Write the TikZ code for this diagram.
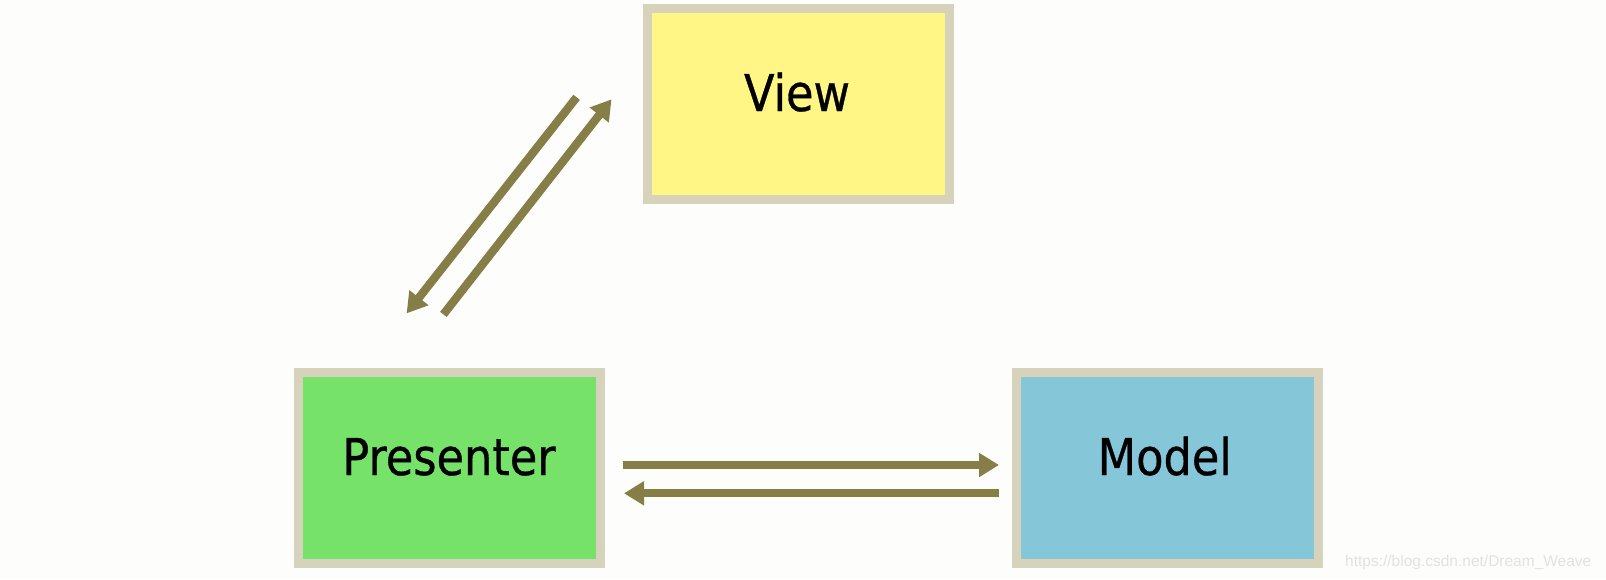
\documentclass[tikz,border=0pt]{standalone}
\usepackage{fontspec}
\setmainfont{DejaVu Sans}[FakeStretch=0.88,FakeBold=0.6]
\newfontfamily\wmfont{Liberation Sans}
\usetikzlibrary{arrows.meta}
\definecolor{bgc}{HTML}{FDFDFB}
\definecolor{bordc}{HTML}{D6D2BC}
\definecolor{viewc}{HTML}{FFF685}
\definecolor{presc}{HTML}{77E26A}
\definecolor{modelc}{HTML}{85C6D8}
\definecolor{arrc}{HTML}{857E47}
\definecolor{wmc}{HTML}{E2E2E0}
\tikzset{
  boxnode/.style={draw=bordc, line width=9pt, minimum width=302pt, minimum height=191pt, inner sep=0pt, outer sep=0pt},
  lbl/.style={anchor=base, inner sep=0pt, font=\fontsize{50.75pt}{60pt}\selectfont, text=black},
  flow/.style={draw=arrc, line width=8.3pt, -{Triangle[width=23pt,length=20pt]}}
}
\begin{document}
\begin{tikzpicture}[x=1pt,y=-1pt]
\fill[bgc] (0,0) rectangle (1606,579);
\useasboundingbox (0,0) rectangle (1606,579);
\node[boxnode, fill=viewc] (view) at (798.7,104.2) {};
\node[boxnode, fill=presc] (presenter) at (449.5,467.7) {};
\node[boxnode, fill=modelc] (model) at (1167.2,467.7) {};
\node[lbl] (viewtxt) at (797,111) {View};
\node[lbl] (prestxt) at (449,475) {Presenter};
\node[lbl] (modeltxt) at (1164.7,475) {Model};
\coordinate (vpS) at (576.6,97.3);
\coordinate (vpE) at (406.6,313.4);
\coordinate (pvS) at (443.4,314.4);
\coordinate (pvE) at (611.5,99.3);
\coordinate (pmS) at (622.7,465);
\coordinate (pmE) at (999,465);
\coordinate (mpS) at (999.3,493.3);
\coordinate (mpE) at (624,493.3);
\draw[flow] (vpS) -- (vpE);
\draw[flow] (pvS) -- (pvE);
\draw[flow] (pmS) -- (pmE);
\draw[flow] (mpS) -- (mpE);
\node[anchor=base west, inner sep=0pt, text=wmc, font=\wmfont\fontsize{15.5pt}{18pt}\selectfont] (wm) at (1345,566) {https://blog.csdn.net/Dream\_Weave};
\end{tikzpicture}
\end{document}
